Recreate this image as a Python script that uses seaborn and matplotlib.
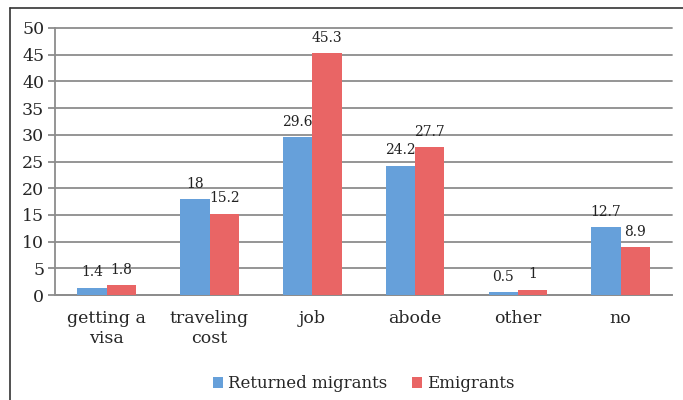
import pandas as pd
import matplotlib.pyplot as plt
import seaborn as sns
from matplotlib.lines import Line2D

# Data
categories = ['getting a\nvisa', 'traveling\ncost', 'job', 'abode', 'other', 'no']
returned = [1.4, 18, 29.6, 24.2, 0.5, 12.7]
emigrants = [1.8, 15.2, 45.3, 27.7, 1, 8.9]
labels_returned = ['1.4', '18', '29.6', '24.2', '0.5', '12.7']
labels_emigrants = ['1.8', '15.2', '45.3', '27.7', '1', '8.9']

data = pd.DataFrame({
    'category': categories * 2,
    'value': returned + emigrants,
    'group': ['Returned migrants'] * len(categories) + ['Emigrants'] * len(categories),
})

sns.set_style('white')
plt.rcParams['font.family'] = ['DejaVu Serif']

fig = plt.figure(figsize=(6.83, 4), dpi=100)
ax = fig.add_axes([0.081, 0.2625, 0.903, 0.6675])

palette = {'Returned migrants': '#66a0da', 'Emigrants': '#e96565'}
sns.barplot(data=data, x='category', y='value', hue='group', palette=palette,
            width=0.57, saturation=1, linewidth=0, ax=ax, zorder=3)

# value labels
for container, labs in zip(ax.containers, [labels_returned, labels_emigrants]):
    ax.bar_label(container, labels=labs, padding=6, fontsize=10, color='#222222')

ax.set_ylim(0, 50)
ax.set_yticks(range(0, 51, 5))
ax.set_xlim(-0.5, len(categories) - 0.5)
ax.yaxis.grid(True, color='#8c8c8c', linewidth=1.3, zorder=0)
ax.set_axisbelow(True)
for gl in ax.get_ygridlines():
    gl.set_clip_on(False)
ax.set_xlabel('')
ax.set_ylabel('')

for side in ['top', 'right']:
    ax.spines[side].set_visible(False)
ax.spines['left'].set_color('#8c8c8c')
ax.spines['bottom'].set_color('#8c8c8c')
ax.spines['left'].set_linewidth(1.3)
ax.spines['bottom'].set_linewidth(1.3)

# tick marks at category boundaries on x, small ticks on y
ax.set_xticks([i for i in range(len(categories))])
ax.set_xticks([i + 0.5 for i in range(-1, len(categories))], minor=True)
ax.tick_params(axis='x', which='major', length=0, labelsize=12.5, pad=11)
ax.tick_params(axis='x', which='minor', length=5, color='#8c8c8c', width=1.3, direction='out')
ax.tick_params(axis='y', length=5, color='#8c8c8c', width=1.3, labelsize=12.5, pad=3)
ax.tick_params(bottom=True, left=True)

ax.legend(loc='lower center', bbox_to_anchor=(0.5, -0.42), ncol=2, frameon=False,
          fontsize=12, handlelength=0.6, handleheight=0.6, handletextpad=0.3,
          columnspacing=1.5)

# outer frame: only left and top edges are visible in the original
fig.lines.append(Line2D([0.015, 0.015], [0.0, 0.98], transform=fig.transFigure,
                        color='#333333', linewidth=1.2))
fig.lines.append(Line2D([0.015, 1.0], [0.98, 0.98], transform=fig.transFigure,
                        color='#333333', linewidth=1.2))

plt.savefig('out.png', dpi=100)
